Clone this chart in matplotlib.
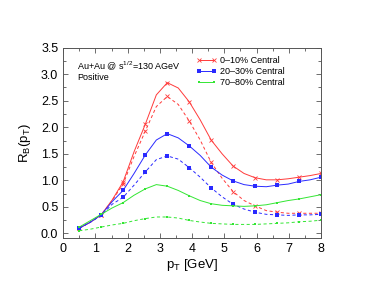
import numpy as np
import matplotlib
matplotlib.use('Agg')
import matplotlib.pyplot as plt
from matplotlib.ticker import MultipleLocator

plt.rcParams['font.family'] = ['Liberation Sans', 'DejaVu Sans']
plt.rcParams['mathtext.fontset'] = 'custom'
plt.rcParams['mathtext.rm'] = 'Liberation Sans'
plt.rcParams['mathtext.it'] = 'Liberation Sans'

# pT [GeV]: markers sit on every other point, the in-between values are
# read off the smooth curves of the original plot
pt = [0.5, 0.84, 1.18, 1.52, 1.86, 2.2, 2.55, 2.89, 3.23, 3.57, 3.91, 4.25,
      4.59, 4.93, 5.27, 5.61, 5.95, 6.3, 6.64, 6.98, 7.32, 7.66, 8.0]

# 0-10% central
rb_0_10_solid = [0.10, 0.21, 0.35, 0.63, 0.97, 1.54, 2.06, 2.61, 2.84, 2.74, 2.48, 2.14,
                 1.76, 1.50, 1.27, 1.13, 1.05, 1.01, 1.01, 1.03, 1.06, 1.09, 1.13]
rb_0_10_dash = [0.10, 0.21, 0.35, 0.62, 0.93, 1.45, 1.93, 2.39, 2.58, 2.43, 2.12, 1.76,
                1.34, 1.04, 0.79, 0.62, 0.52, 0.43, 0.40, 0.38, 0.38, 0.38, 0.38]
# 20-30% central
rb_20_30_solid = [0.10, 0.21, 0.35, 0.60, 0.81, 1.13, 1.48, 1.76, 1.88, 1.80, 1.65, 1.47,
                  1.25, 1.10, 0.99, 0.92, 0.89, 0.88, 0.91, 0.93, 0.98, 1.01, 1.06]
rb_20_30_dash = [0.10, 0.21, 0.34, 0.55, 0.68, 0.91, 1.16, 1.39, 1.46, 1.40, 1.24, 1.06,
                 0.86, 0.69, 0.55, 0.46, 0.40, 0.36, 0.35, 0.34, 0.35, 0.35, 0.36]
# 70-80% central
rb_70_80_solid = [0.12, 0.24, 0.36, 0.48, 0.58, 0.72, 0.84, 0.92, 0.89, 0.81, 0.71, 0.62,
                  0.56, 0.53, 0.52, 0.51, 0.52, 0.54, 0.58, 0.62, 0.65, 0.69, 0.73]
rb_70_80_dash = [0.05, 0.08, 0.12, 0.16, 0.19, 0.24, 0.28, 0.31, 0.31, 0.29, 0.245, 0.215,
                 0.19, 0.18, 0.17, 0.17, 0.17, 0.18, 0.19, 0.20, 0.22, 0.23, 0.25]

red = '#ff3a3a'
blue = '#2a2aff'
green = '#33e633'
lw = 0.7
dash = (3.2, 2.6)

fig = plt.figure(figsize=(3.85, 2.96), dpi=100)
ax = fig.add_axes([0.164, 0.197, 0.670, 0.642])

ax.plot(pt, rb_0_10_solid, '-', color=red, lw=lw, marker='x', ms=2.6, mew=0.6,
        markevery=2, label='0\u201310% Central')
ax.plot(pt, rb_0_10_dash, '--', color=red, lw=lw, marker='x', ms=2.6, mew=0.6,
        markevery=2, dashes=dash)
ax.plot(pt, rb_20_30_solid, '-', color=blue, lw=lw, marker='s', ms=2.5, mew=0,
        markevery=2, label='20\u201330% Central')
ax.plot(pt, rb_20_30_dash, '--', color=blue, lw=lw, marker='s', ms=2.5, mew=0,
        markevery=2, dashes=dash)
ax.plot(pt, rb_70_80_solid, '-', color=green, lw=lw, marker='s', ms=1.7, mew=0,
        markevery=2, label='70\u201380% Central')
ax.plot(pt, rb_70_80_dash, '--', color=green, lw=lw, marker='s', ms=1.7, mew=0,
        markevery=2, dashes=dash)

ax.set_xlim(0, 8)
ax.set_ylim(-0.08, 3.5)
ax.xaxis.set_major_locator(MultipleLocator(1))
ax.xaxis.set_minor_locator(MultipleLocator(0.5))
ax.yaxis.set_minor_locator(MultipleLocator(0.25))
ax.set_yticks(np.arange(0, 3.51, 0.5))
ax.set_yticklabels(['0.0', '0.5', '1.0', '1.5', '2.0', '2.5', '3.0', '3.5'])
ax.tick_params(which='both', direction='in', top=True, right=True,
               labelsize=9, color='#555555', width=0.6)
ax.tick_params(which='major', length=3.5)
ax.tick_params(which='minor', length=2)
for s in ax.spines.values():
    s.set_color('#555555')
    s.set_linewidth(0.7)

ax.set_xlabel('p$_\\mathregular{T}$ [GeV]', fontsize=9.5, labelpad=2)
ax.set_ylabel('R$_\\mathregular{B}$(p$_\\mathregular{T}$)', fontsize=9.5, labelpad=6)

ax.text(0.055, 0.905, 'Au+Au @ s$^{1/2}$=130 AGeV', transform=ax.transAxes,
        fontsize=6.5, va='center')
ax.text(0.055, 0.845, 'Positive', transform=ax.transAxes, fontsize=6.5, va='center')

ax.legend(loc='upper right', bbox_to_anchor=(0.89, 1.0), fontsize=6.5, frameon=False,
          numpoints=2, handlelength=2.2, handletextpad=0.4, labelspacing=0.25)

fig.savefig('out.png', dpi=100)
